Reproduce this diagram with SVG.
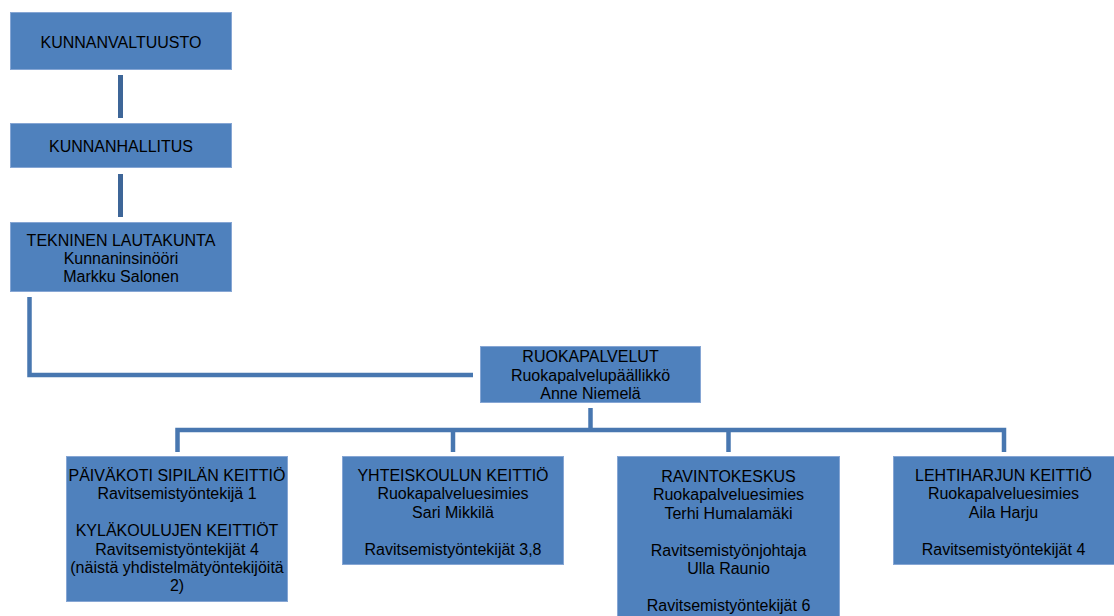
<svg xmlns="http://www.w3.org/2000/svg" width="1114" height="616" viewBox="0 0 1114 616">
<style>
.box{fill:#4f81bd;stroke:#86a6d4;stroke-width:1}
.t{font-family:"Liberation Sans",Arial,sans-serif;font-size:16px;fill:#000;text-anchor:middle}
.c{fill:none;stroke:#4877b0;stroke-width:4.5;stroke-linecap:butt;stroke-linejoin:miter}
.cd{fill:none;stroke:#3e6698;stroke-width:5}
</style>
<rect width="1114" height="616" fill="#fff"/>
<g id="connectors">
<line class="cd" x1="120.5" y1="75" x2="120.5" y2="118"/>
<line class="cd" x1="120.5" y1="174" x2="120.5" y2="217"/>
<polyline class="c" points="29.5,297 29.5,375 473,375"/>
<polyline class="c" points="590.5,408 590.5,430"/>
<polyline class="c" points="177.5,452 177.5,430 1004,430 1004,452"/>
<line class="c" x1="453" y1="430" x2="453" y2="452"/>
<line class="c" x1="728.5" y1="430" x2="728.5" y2="452"/>
</g>
<g id="kunnanvaltuusto">
<rect class="box" x="10.5" y="12.5" width="221" height="57"/>
<text class="t" x="121" y="48">KUNNANVALTUUSTO</text>
</g>
<g id="kunnanhallitus">
<rect class="box" x="10.5" y="123.5" width="221" height="44"/>
<text class="t" x="121" y="152">KUNNANHALLITUS</text>
</g>
<g id="tekninen">
<rect class="box" x="10.5" y="222.5" width="221" height="69"/>
<text class="t" x="121" y="245.5">TEKNINEN LAUTAKUNTA</text>
<text class="t" x="121" y="263.5">Kunnaninsinööri</text>
<text class="t" x="121" y="281.5">Markku Salonen</text>
</g>
<g id="ruokapalvelut">
<rect class="box" x="480.5" y="346.5" width="220" height="56"/>
<text class="t" x="590.5" y="362">RUOKAPALVELUT</text>
<text class="t" x="590.5" y="380.5">Ruokapalvelupäällikkö</text>
<text class="t" x="590.5" y="399">Anne Niemelä</text>
</g>
<g id="paivakoti">
<rect class="box" x="66.5" y="456.5" width="221" height="145"/>
<text class="t" x="177" y="481">PÄIVÄKOTI SIPILÄN KEITTIÖ</text>
<text class="t" x="177" y="499.4">Ravitsemistyöntekijä 1</text>
<text class="t" x="177" y="536.2">KYLÄKOULUJEN KEITTIÖT</text>
<text class="t" x="177" y="554.6">Ravitsemistyöntekijät 4</text>
<text class="t" x="177" y="573">(näistä yhdistelmätyöntekijöitä</text>
<text class="t" x="177" y="591.4">2)</text>
</g>
<g id="yhteiskoulu">
<rect class="box" x="342.5" y="456.5" width="221" height="108"/>
<text class="t" x="453" y="481">YHTEISKOULUN KEITTIÖ</text>
<text class="t" x="453" y="499.4">Ruokapalveluesimies</text>
<text class="t" x="453" y="517.8">Sari Mikkilä</text>
<text class="t" x="453" y="554.6">Ravitsemistyöntekijät 3,8</text>
</g>
<g id="ravintokeskus">
<rect class="box" x="617.5" y="456.5" width="222" height="170"/>
<text class="t" x="728.5" y="482">RAVINTOKESKUS</text>
<text class="t" x="728.5" y="500.4">Ruokapalveluesimies</text>
<text class="t" x="728.5" y="518.8">Terhi Humalamäki</text>
<text class="t" x="728.5" y="555.6">Ravitsemistyönjohtaja</text>
<text class="t" x="728.5" y="574">Ulla Raunio</text>
<text class="t" x="728.5" y="610.8">Ravitsemistyöntekijät 6</text>
</g>
<g id="lehtiharju">
<rect class="box" x="893.5" y="456.5" width="221" height="108"/>
<text class="t" x="1003.5" y="481">LEHTIHARJUN KEITTIÖ</text>
<text class="t" x="1003.5" y="499.4">Ruokapalveluesimies</text>
<text class="t" x="1003.5" y="517.8">Aila Harju</text>
<text class="t" x="1003.5" y="554.6">Ravitsemistyöntekijät 4</text>
</g>
</svg>
